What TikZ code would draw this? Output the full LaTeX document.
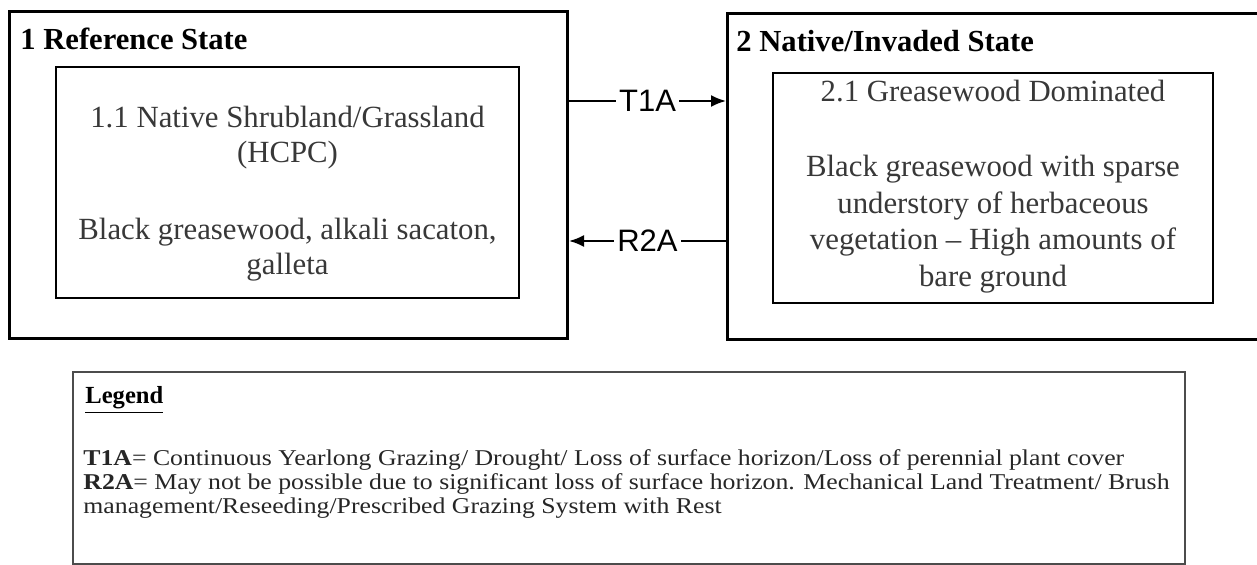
\documentclass[tikz,border=0pt]{standalone}
\usepackage{fontspec}
\setmainfont{Liberation Serif}
\newfontfamily\labelfont{Liberation Sans}
\newfontfamily\legendfont[FakeStretch=1.14]{Liberation Serif}
\usetikzlibrary{arrows.meta, positioning, calc}

\tikzset{
	statebox/.style={draw, line width=1.5pt, anchor=north west, inner sep=0pt},
	phasebox/.style={draw, line width=1pt, anchor=north west, inner sep=0pt},
	statetitle/.style={anchor=base west, inner sep=0pt, font=\fontsize{15.3}{17}\selectfont\bfseries},
	phasetext/.style={align=center, text=black!78, inner sep=0pt},
	trans/.style={-{Latex[length=7.5pt,width=6pt]}, line width=1pt},
	translabel/.style={fill=white, inner sep=1.5pt, font=\labelfont\fontsize{15.5}{17}\selectfont}
}

\begin{document}
\begin{tikzpicture}[x=0.5pt, y=-0.5pt]
	\useasboundingbox (0,0) rectangle (1257,565);
	
	% 状态框
	\node[statebox, minimum width=279pt, minimum height=163.5pt] (s1) at (8,10) {};
	\node[statebox, minimum width=268pt, minimum height=163pt] (s2) at (726,12) {};
	\node[statetitle] (s1title) at (20,50) {1 Reference State};
	\node[statetitle] (s2title) at (736,52) {2 Native/Invaded State};
	
	% 群落阶段
	\node[phasebox, minimum width=231.5pt, minimum height=115.5pt] (p11) at (55,66) {};
	\node[phasebox, minimum width=220pt, minimum height=115pt] (p21) at (772,72) {};
	\node[phasetext, font=\fontsize{15.4}{17.3}\selectfont, below=20pt of p11.north] (p11text)
		{1.1 Native Shrubland/Grassland\\(HCPC)\\[21.5pt]Black greasewood, alkali sacaton,\\galleta};
	\node[phasetext, font=\fontsize{15.4}{18.3}\selectfont, below=4pt of p21.north] (p21text)
		{2.1 Greasewood Dominated\\[19.2pt]Black greasewood with sparse\\understory of herbaceous\\vegetation -- High amounts of\\bare ground};
	
	% 转换箭头
	\coordinate (t1a) at (646,101);
	\coordinate (r2a) at (646,241);
	\draw[trans] (s1.east |- t1a) -- node[translabel] {T1A} (s2.west |- t1a);
	\draw[trans] (s2.west |- r2a) -- node[translabel] {R2A} (s1.east |- r2a);
	
	% 图例
	\node[phasebox, draw=black!70, minimum width=556pt, minimum height=96pt] (legend) at (72,371) {};
	\node[anchor=base west, inner sep=0pt, font=\fontsize{12.3}{14}\selectfont\bfseries] (legendtitle) at (85,404) {\underline{Legend}};
	\node[anchor=north west, align=left, inner sep=0pt, text=black!85,
		font=\legendfont\fontsize{11.3}{12}\selectfont] (legendtext) at (83,449)
		{\textbf{T1A}= Continuous Yearlong Grazing/ Drought/ Loss of surface horizon/Loss of perennial plant cover\\
		\textbf{R2A}= May not be possible due to significant loss of surface horizon. Mechanical Land Treatment/ Brush\\
		management/Reseeding/Prescribed Grazing System with Rest};
\end{tikzpicture}
\end{document}
